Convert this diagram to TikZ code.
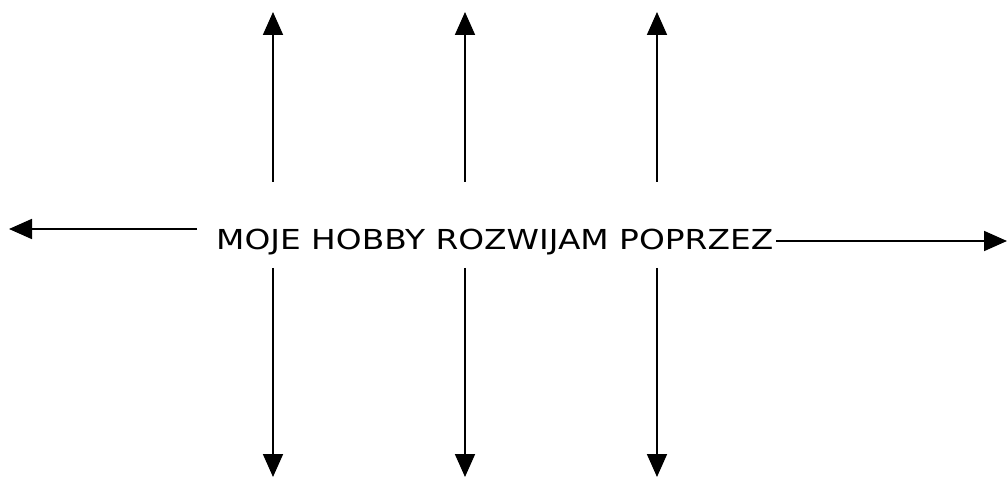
\documentclass[tikz,border=0pt]{standalone}
\usepackage{fontspec}
\usepackage{graphicx}
\setmainfont{DejaVu Sans}
\usetikzlibrary{arrows.meta}
\tikzset{
  arr/.style={line width=1.8pt,-{Triangle[length=23pt,width=20pt]}},
  lbl/.style={inner sep=0pt,anchor=base west,font=\fontsize{27.5}{32}\selectfont}
}
\begin{document}
\begin{tikzpicture}[x=1pt,y=-1pt]
\useasboundingbox (0,0) rectangle (1007,478);
\node[lbl] (t) at (216,249.5) {\resizebox{557pt}{\height}{MOJE HOBBY ROZWIJAM POPRZEZ}};
\coordinate (ls) at (197,229);
\coordinate (le) at (9,229);
\coordinate (rs) at (776,241);
\coordinate (re) at (1007,241);
\draw[arr] (ls) -- (le);
\draw[arr] (rs) -- (re);
\foreach \i/\x in {1/273,2/465,3/657}{
  \coordinate (u\i s) at (\x,182);
  \coordinate (u\i e) at (\x,12);
  \coordinate (d\i s) at (\x,268);
  \coordinate (d\i e) at (\x,477);
  \draw[arr] (u\i s) -- (u\i e);
  \draw[arr] (d\i s) -- (d\i e);
}
\end{tikzpicture}
\end{document}
